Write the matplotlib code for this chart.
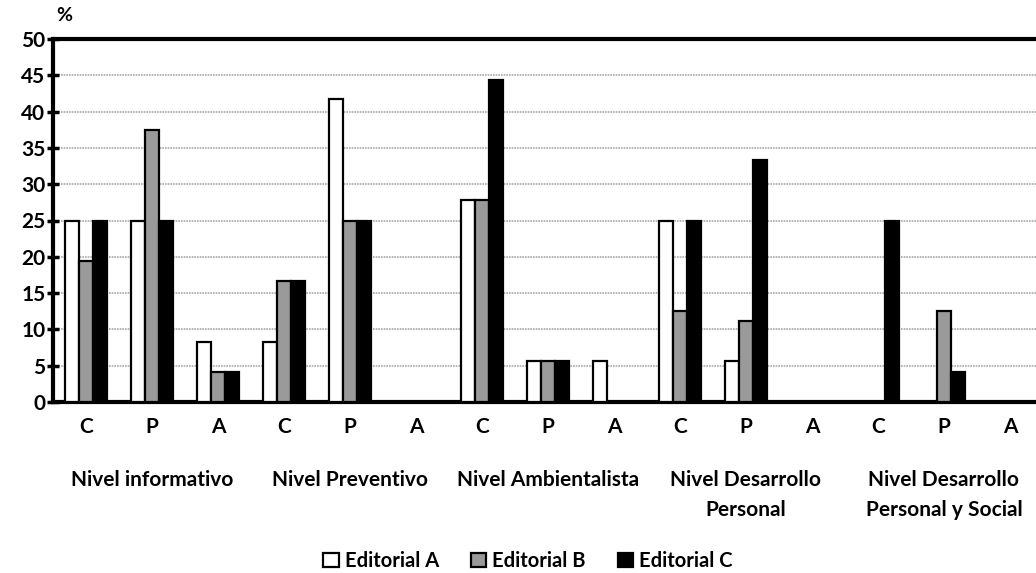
import matplotlib
matplotlib.use("Agg")
import matplotlib.pyplot as plt
import numpy as np
from matplotlib.patches import Patch

plt.rcParams['font.family'] = ['Lato', 'DejaVu Sans']

sub_labels = ["C", "P", "A"] * 5
group_labels = ["Nivel informativo", "Nivel Preventivo", "Nivel Ambientalista",
                "Nivel Desarrollo\nPersonal", "Nivel Desarrollo\nPersonal y Social"]
series_names = ["Editorial A", "Editorial B", "Editorial C"]
editorial_a = [25, 25, 8.3, 8.3, 41.7, 0, 27.8, 5.6, 5.6, 25, 5.6, 0, 0, 0, 0]
editorial_b = [19.4, 37.5, 4.2, 16.7, 25, 0, 27.8, 5.6, 0, 12.5, 11.1, 0, 0, 12.5, 0]
editorial_c = [25, 25, 4.2, 16.7, 25, 0, 44.4, 5.6, 0, 25, 33.3, 0, 25, 4.2, 0]
y_ticks = [0, 5, 10, 15, 20, 25, 30, 35, 40, 45, 50]

fig = plt.figure(figsize=(10.36, 5.73), dpi=100)
ax = fig.add_axes([53/1036, 1-402/573, 990/1036, (402-39)/573])

x = np.arange(len(sub_labels))
w = 0.215
styles = [dict(facecolor="white", edgecolor="black"),
          dict(facecolor="#9a9a9a", edgecolor="black"),
          dict(facecolor="black", edgecolor="black")]
for i, (vals, st) in enumerate(zip([editorial_a, editorial_b, editorial_c], styles)):
    ax.bar(x + (i - 1) * w, vals, width=w, linewidth=1.6, zorder=3, **st)

ax.set_xlim(-0.5, len(sub_labels) - 0.5)
ax.set_ylim(0, 50)
ax.set_yticks(y_ticks)
ax.set_yticklabels([str(t) for t in y_ticks], fontsize=15, fontweight="bold")
ax.yaxis.grid(True, color="#a8a8a8", linestyle=(0, (1, 0.6)), linewidth=1.2, zorder=0)
ax.set_axisbelow(True)
ax.tick_params(axis="y", direction="inout", length=9, width=2.5, pad=1)
ax.tick_params(axis="x", length=0, pad=11)
ax.set_xticks(x)
ax.set_xticklabels(sub_labels, fontsize=15, fontweight="bold")

for side in ["left", "bottom", "top"]:
    ax.spines[side].set_linewidth(3)
ax.spines["right"].set_visible(False)

for g, lab in enumerate(group_labels):
    ax.text(g * 3 + 1, -9.4, lab, ha="center", va="top", fontsize=15,
            fontweight="bold", linespacing=1.6, transform=ax.transData, clip_on=False)

ax.text(0.003, 1.04, "%", transform=ax.transAxes, fontsize=14, fontweight="bold",
        ha="left", va="bottom")

handles = [Patch(linewidth=1.6, **st) for st in styles]
fig.legend(handles, series_names, loc="center", bbox_to_anchor=(528/1036, 1-561/573),
           ncol=3, frameon=False, prop={"weight": "bold", "size": 14.5},
           handlelength=0.75, handleheight=0.75, handletextpad=0.3, columnspacing=1.6)

fig.savefig("out.png", dpi=100)
